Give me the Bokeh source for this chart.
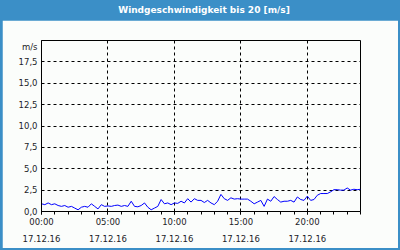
from bokeh.plotting import figure
from bokeh.models import Range1d, FixedTicker, Div
from bokeh.layouts import column
from bokeh.embed import file_html
from bokeh.resources import INLINE

title_text = "Windgeschwindigkeit bis 20 [m/s]"

hours = [0.00, 0.25, 0.50, 0.75, 1.00, 1.25, 1.50, 1.75, 2.00, 2.25, 2.50, 2.75,
         3.00, 3.25, 3.50, 3.75, 4.00, 4.25, 4.50, 4.75, 5.00, 5.25, 5.50, 5.75,
         6.00, 6.25, 6.50, 6.75, 7.00, 7.25, 7.50, 7.75, 8.00, 8.25, 8.50, 8.75,
         9.00, 9.25, 9.50, 9.75, 10.00, 10.25, 10.50, 10.75, 11.00, 11.25, 11.50, 11.75,
         12.00, 12.25, 12.50, 12.75, 13.00, 13.25, 13.50, 13.75, 14.00, 14.25, 14.50, 14.75,
         15.00, 15.25, 15.50, 15.75, 16.00, 16.25, 16.50, 16.75, 17.00, 17.25, 17.50, 17.75,
         18.00, 18.25, 18.50, 18.75, 19.00, 19.25, 19.50, 19.75, 20.00, 20.25, 20.50, 20.75,
         21.00, 21.25, 21.50, 21.75, 22.00, 22.25, 22.50, 22.75, 23.00, 23.25, 23.50, 23.75, 24.00]

speed = [0.9, 0.8, 1.0, 0.8, 0.9, 0.7, 0.6, 0.7, 0.5, 0.6, 0.4, 0.2,
         0.5, 0.6, 0.5, 0.9, 0.6, 0.3, 0.8, 0.6, 0.65, 0.6, 0.7, 0.75,
         0.6, 0.7, 0.6, 1.2, 0.6, 0.55, 0.7, 1.0, 0.5, 0.2, 0.4, 0.6,
         1.4, 0.9, 1.0, 0.8, 1.0, 0.95, 1.2, 1.0, 1.5, 1.1, 1.5, 1.3,
         1.3, 1.05, 1.3, 1.0, 0.8, 1.2, 2.0, 1.5, 1.3, 1.6, 1.45, 1.5,
         1.45, 1.45, 1.45, 1.2, 0.9, 1.1, 1.3, 0.6, 1.45, 1.2, 1.75, 1.4,
         1.1, 1.2, 1.2, 1.3, 1.1, 1.7, 1.4, 1.3, 1.8, 1.3, 1.4, 1.9,
         2.1, 2.1, 2.1, 2.3, 2.55, 2.55, 2.5, 2.5, 2.75, 2.5, 2.6, 2.55, 2.6]

x_ticks = [0, 5, 10, 15, 20]
x_tick_labels = ["00:00\n17.12.16", "05:00\n17.12.16", "10:00\n17.12.16",
                 "15:00\n17.12.16", "20:00\n17.12.16"]
x_minor_ticks = list(range(0, 25))
y_ticks = [0, 2.5, 5, 7.5, 10, 12.5, 15, 17.5, 20]
y_tick_labels = ["0,0", "2,5", "5,0", "7,5", "10,0", "12,5", "15,0", "17,5", "\nm/s"]

BLUE = "#3b8fc7"
BG = "#fbfdfb"
TXT = "#1c1c28"
FONT = "DejaVu Sans"

title = Div(text=title_text, width=400, height=20, margin=0,
            styles={"background-color": BLUE, "color": "white", "font-weight": "bold",
                    "font-family": FONT, "font-size": "9px", "text-align": "center",
                    "line-height": "20px", "padding-left": "8px", "box-sizing": "border-box"})

p = figure(width=396, height=228, output_backend="svg", toolbar_location=None,
           x_range=Range1d(0, 24), y_range=Range1d(0, 20),
           min_border_left=39, min_border_right=38, min_border_top=20, min_border_bottom=37,
           background_fill_color=BG, border_fill_color=BG, margin=(0, 2, 2, 2))

p.line(hours, speed, line_color="#0000ff", line_width=1)

# axes
xa = p.xaxis[0]
xa.ticker = FixedTicker(ticks=x_ticks, minor_ticks=x_minor_ticks)
xa.major_label_overrides = {t: l for t, l in zip(x_ticks, x_tick_labels)}
xa.major_tick_out = 3
xa.major_tick_in = 0
xa.minor_tick_out = 3
xa.minor_tick_in = 0
xa.major_label_standoff = 2
xa.major_label_text_font = FONT
xa.major_label_text_font_size = "8.5px"
xa.major_label_text_color = TXT
xa.major_label_text_line_height = 1.7
xa.axis_line_color = "black"
xa.major_tick_line_color = "black"
xa.minor_tick_line_color = "black"

ya = p.yaxis[0]
ya.ticker = FixedTicker(ticks=y_ticks)
ya.major_label_overrides = {t: l for t, l in zip(y_ticks, y_tick_labels)}
ya.major_tick_out = 0
ya.major_tick_in = 0
ya.minor_tick_out = 0
ya.minor_tick_in = 0
ya.major_label_standoff = 4
ya.major_label_text_font = FONT
ya.major_label_text_font_size = "8.5px"
ya.major_label_text_color = TXT
ya.axis_line_color = "black"

# grids
p.xgrid.ticker = FixedTicker(ticks=[5, 10, 15, 20])
p.ygrid.ticker = FixedTicker(ticks=[2.5, 5, 7.5, 10, 12.5, 15, 17.5])
for g in (p.xgrid[0], p.ygrid[0]):
    g.grid_line_color = "black"
    g.grid_line_dash = "3 3"
    g.grid_line_width = 1

p.outline_line_color = "black"
p.outline_line_width = 1
p.outline_line_alpha = 1

layout = column(title, p, spacing=0, width=400, height=250,
                styles={"background-color": BLUE})

open("out.html", "w").write(file_html(layout, INLINE))
